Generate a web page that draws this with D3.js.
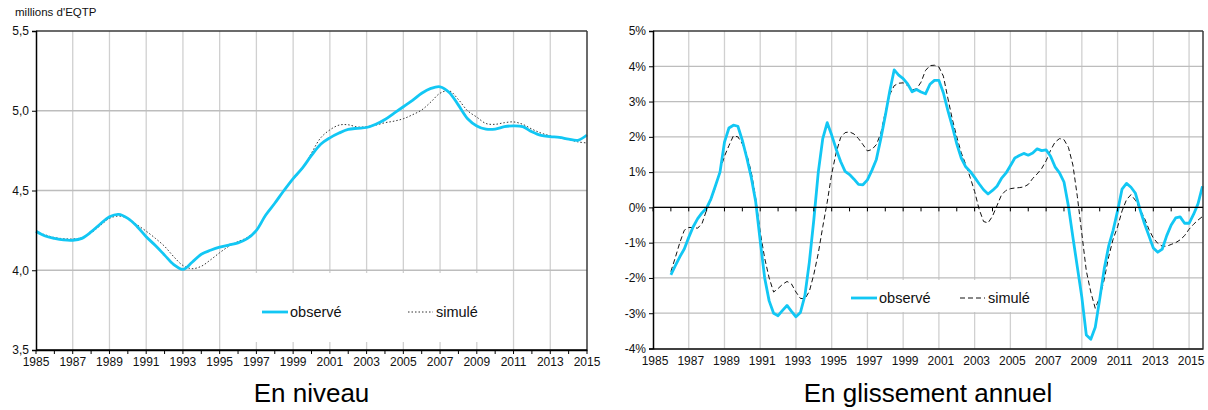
<!DOCTYPE html>
<html>
<head>
<meta charset="utf-8">
<script src="https://cdn.jsdelivr.net/npm/d3@7"></script>
<style>
	body { margin: 0; background: #fff; }
	svg { display: block; font-family: "Liberation Sans", Arial, sans-serif; }
</style>
</head>
<body>
<svg id="chart" width="1208" height="410"></svg>
<script>
// En niveau : millions d'EQTP, un point par semestre depuis 1985
var niveauDebut = 1985, niveauPas = 0.5;
var niveauObserve = [
	4.245, 4.215, 4.200, 4.190, 4.188, 4.200, 4.240, 4.290, 4.335, 4.350,
	4.325, 4.275, 4.210, 4.155, 4.095, 4.035, 4.005, 4.050, 4.100, 4.125,
	4.145, 4.158, 4.172, 4.198, 4.250, 4.345, 4.420, 4.500, 4.575, 4.640,
	4.720, 4.790, 4.830, 4.860, 4.883, 4.890, 4.895, 4.915, 4.945, 4.985,
	5.025, 5.065, 5.110, 5.140, 5.150, 5.115, 5.035, 4.950, 4.905, 4.885,
	4.885, 4.900, 4.905, 4.900, 4.868, 4.845, 4.838, 4.833, 4.822, 4.815,
	4.848
];
var niveauSimule = [
	4.240, 4.222, 4.205, 4.198, 4.196, 4.205, 4.235, 4.280, 4.325, 4.340,
	4.325, 4.285, 4.245, 4.200, 4.150, 4.085, 4.030, 4.010, 4.025, 4.065,
	4.110, 4.150, 4.180, 4.205, 4.255, 4.345, 4.425, 4.500, 4.570, 4.635,
	4.735, 4.830, 4.880, 4.910, 4.912, 4.898, 4.900, 4.910, 4.925, 4.935,
	4.950, 4.975, 5.005, 5.055, 5.110, 5.125, 5.070, 5.000, 4.960, 4.920,
	4.915, 4.925, 4.930, 4.915, 4.885, 4.860, 4.843, 4.830, 4.820, 4.805,
	4.798
];

// En glissement annuel : %, un point par trimestre, 1986T1 - 2015T4
var glisDebut = 1986, glisPas = 0.25;
var glisObserve = [
	-1.91, -1.65, -1.40, -1.18, -0.85, -0.55, -0.32, -0.15,
	-0.02, 0.25, 0.62, 1.00, 1.85, 2.25, 2.33, 2.30,
	1.90, 1.40, 0.85, 0.15, -0.95, -2.00, -2.65, -3.00,
	-3.07, -2.92, -2.78, -2.95, -3.10, -2.98, -2.50, -1.55,
	-0.35, 1.00, 1.95, 2.40, 2.05, 1.65, 1.30, 1.02,
	0.93, 0.80, 0.65, 0.64, 0.78, 1.05, 1.36, 1.95,
	2.60, 3.30, 3.90, 3.75, 3.65, 3.50, 3.28, 3.34,
	3.27, 3.22, 3.49, 3.60, 3.60, 3.25, 2.75, 2.30,
	1.80, 1.40, 1.15, 1.02, 0.85, 0.67, 0.50, 0.38,
	0.48, 0.60, 0.82, 0.97, 1.18, 1.40, 1.47, 1.53,
	1.48, 1.54, 1.66, 1.61, 1.63, 1.45, 1.15, 0.98,
	0.72, 0.03, -0.85, -1.70, -2.55, -3.62, -3.74, -3.40,
	-2.60, -1.75, -1.10, -0.65, -0.10, 0.52, 0.68, 0.57,
	0.40, -0.05, -0.45, -0.80, -1.15, -1.27, -1.18, -0.80,
	-0.50, -0.30, -0.27, -0.45, -0.45, -0.20, 0.10, 0.60
];
var glisSimule = [
	-1.82, -1.42, -1.00, -0.65, -0.57, -0.57, -0.59, -0.45,
	-0.07, 0.22, 0.58, 1.05, 1.45, 1.75, 2.03, 2.00,
	1.80, 1.50, 1.00, 0.25, -0.70, -1.44, -2.00, -2.40,
	-2.30, -2.18, -2.10, -2.17, -2.40, -2.58, -2.59, -2.38,
	-1.90, -1.30, -0.55, 0.15, 0.95, 1.55, 1.98, 2.12,
	2.14, 2.08, 1.95, 1.78, 1.60, 1.64, 1.78, 2.10,
	2.70, 3.20, 3.45, 3.52, 3.53, 3.45, 3.33, 3.36,
	3.55, 3.88, 4.02, 4.03, 3.98, 3.72, 3.10, 2.50,
	2.00, 1.55, 1.22, 0.85, 0.45, -0.05, -0.40, -0.44,
	-0.25, 0.05, 0.35, 0.48, 0.53, 0.55, 0.56, 0.58,
	0.65, 0.82, 0.95, 1.10, 1.32, 1.62, 1.85, 1.95,
	1.92, 1.70, 1.20, 0.30, -0.75, -1.80, -2.40, -2.86,
	-2.55, -2.05, -1.40, -0.90, -0.55, -0.10, 0.22, 0.36,
	0.20, -0.05, -0.30, -0.62, -0.87, -1.02, -1.10, -1.10,
	-1.05, -1.00, -0.92, -0.80, -0.62, -0.48, -0.36, -0.26
];

var anneesLabels = d3.range(1985, 2016, 2);
var anneesTicks = d3.range(1985, 2016, 1);
var niveauTicks = [3.5, 4.0, 4.5, 5.0, 5.5];
var glisTicks = [-4, -3, -2, -1, 0, 1, 2, 3, 4, 5];

var cyan = '#12c7f4',
	gridV = '#d0d0d0',
	gridH = '#bdbdbd',
	tickFont = 12;

var svg = d3.select('#chart');

function panel(opts) {
	var x = d3.scaleLinear().domain(opts.xDomain).range(opts.xRange),
		y = d3.scaleLinear().domain(opts.yDomain).range(opts.yRange),
		g = svg.append('g'),
		x0 = opts.xRange[0], x1 = opts.xRange[1],
		y0 = opts.yRange[0], y1 = opts.yRange[1];

	// vertical grid, odd years
	g.append('g').selectAll('line')
		.data(anneesLabels.filter(function (a) { return a > opts.xDomain[0] && x(a) < x1 - 2; }))
		.enter().append('line')
		.attr('x1', function (d) { return x(d); })
		.attr('x2', function (d) { return x(d); })
		.attr('y1', y0).attr('y2', y1)
		.attr('stroke', gridV).attr('stroke-width', 1.3);

	// horizontal grid
	g.append('g').selectAll('line')
		.data(opts.yTicks.filter(function (v) { return v > opts.yDomain[0] && v < opts.yDomain[1]; }))
		.enter().append('line')
		.attr('x1', x0).attr('x2', x1)
		.attr('y1', function (d) { return y(d); })
		.attr('y2', function (d) { return y(d); })
		.attr('stroke', gridH).attr('stroke-width', 1.3);

	// legend box hides the grid behind it
	var lg = opts.legend;
	g.append('rect')
		.attr('x', lg.box[0]).attr('y', lg.box[1])
		.attr('width', lg.box[2]).attr('height', lg.box[3])
		.attr('fill', '#fff');

	var line = d3.line()
		.x(function (d, i) { return x(opts.start + i * opts.step); })
		.y(function (d) { return y(d); })
		.curve(opts.curve);

	g.append('path').datum(opts.simule)
		.attr('d', line)
		.attr('fill', 'none')
		.attr('stroke', opts.simColor)
		.attr('stroke-width', 1)
		.attr('stroke-dasharray', opts.simDash);

	g.append('path').datum(opts.observe)
		.attr('d', line)
		.attr('fill', 'none')
		.attr('stroke', cyan)
		.attr('stroke-width', 2.8)
		.attr('stroke-linejoin', 'round');

	// frame: top and right in dark grey, axes in black
	g.append('line').attr('x1', x0).attr('x2', x1).attr('y1', y1).attr('y2', y1)
		.attr('stroke', '#3a3a3a').attr('stroke-width', 1.5);
	g.append('line').attr('x1', x1).attr('x2', x1).attr('y1', y1).attr('y2', y0)
		.attr('stroke', '#3a3a3a').attr('stroke-width', 1.5);

	var yAxis = d3.axisLeft(y).tickValues(opts.yTicks).tickSize(4).tickPadding(3)
		.tickFormat(opts.yFormat);
	var ya = g.append('g').attr('transform', 'translate(' + x0 + ',0)').call(yAxis);

	var xa = g.append('g').attr('transform', 'translate(0,' + y0 + ')')
		.call(d3.axisBottom(x).tickValues([]).tickSizeOuter(0));

	// year ticks on the reference line
	var yt = y(opts.tickLineAt);
	g.append('line').attr('x1', x0).attr('x2', x1).attr('y1', yt).attr('y2', yt)
		.attr('stroke', '#000').attr('stroke-width', 1.3);
	g.append('g').selectAll('line').data(anneesTicks).enter().append('line')
		.attr('x1', function (d) { return x(d); })
		.attr('x2', function (d) { return x(d); })
		.attr('y1', yt).attr('y2', yt + 4)
		.attr('stroke', '#000').attr('stroke-width', 1);

	g.append('g').selectAll('text').data(anneesLabels).enter().append('text')
		.attr('x', function (d) { return x(d) + opts.labelShift; })
		.attr('y', y0 + 16)
		.attr('text-anchor', 'middle')
		.attr('font-size', tickFont)
		.attr('fill', '#111')
		.text(function (d) { return d; });

	[ya, xa].forEach(function (a) {
		a.select('.domain').attr('stroke', '#000').attr('stroke-width', 1.5);
		a.selectAll('.tick line').attr('stroke', '#000');
		a.selectAll('.tick text').attr('font-size', tickFont).attr('fill', '#111')
			.attr('font-family', '"Liberation Sans", Arial, sans-serif');
	});

	// legend items
	var ly = lg.y;
	g.append('line').attr('x1', lg.items[0]).attr('x2', lg.items[0] + 26)
		.attr('y1', ly).attr('y2', ly)
		.attr('stroke', cyan).attr('stroke-width', 2.8);
	g.append('text').attr('x', lg.items[0] + 28).attr('y', ly + 5)
		.attr('font-size', 14.5).attr('fill', '#111').text('observé');
	g.append('line').attr('x1', lg.items[1]).attr('x2', lg.items[1] + 25)
		.attr('y1', ly).attr('y2', ly)
		.attr('stroke', opts.simColor).attr('stroke-width', 1)
		.attr('stroke-dasharray', opts.simDash);
	g.append('text').attr('x', lg.items[1] + 28).attr('y', ly + 5)
		.attr('font-size', 14.5).attr('fill', '#111').text('simulé');

	g.append('text')
		.attr('x', (x0 + x1) / 2).attr('y', 402)
		.attr('text-anchor', 'middle')
		.attr('font-size', 26).attr('fill', '#000')
		.text(opts.title);
}

panel({
	xDomain: [1985, 2015], xRange: [36, 587],
	yDomain: [3.5, 5.5], yRange: [350, 31],
	yTicks: niveauTicks,
	yFormat: function (d) { return d3.format('.1f')(d).replace('.', ','); },
	start: niveauDebut, step: niveauPas,
	observe: niveauObserve, simule: niveauSimule,
	simColor: '#333', simDash: '1.5,2',
	curve: d3.curveCatmullRom.alpha(0.5),
	tickLineAt: 3.5, labelShift: 0,
	legend: { box: [240, 273, 256, 69], y: 312, items: [262, 408] },
	title: 'En niveau'
});

panel({
	xDomain: [1985, 2015.78], xRange: [653, 1203],
	yDomain: [-4, 5], yRange: [348.5, 31],
	yTicks: glisTicks,
	yFormat: function (d) { return d + '%'; },
	start: glisDebut, step: glisPas,
	observe: glisObserve, simule: glisSimule,
	simColor: '#111', simDash: '5,3',
	curve: d3.curveLinear,
	tickLineAt: 0, labelShift: 2,
	legend: { box: [838, 280, 204, 32], y: 298, items: [851, 960] },
	title: 'En glissement annuel'
});

svg.append('text')
	.attr('x', 15).attr('y', 16)
	.attr('font-size', 11.5).attr('fill', '#111')
	.text("millions d'EQTP");
</script>
</body>
</html>
